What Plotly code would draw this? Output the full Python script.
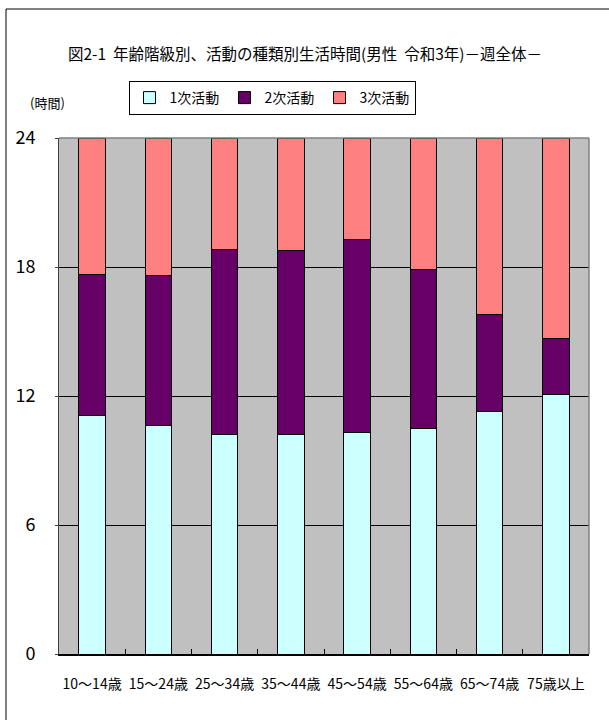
import plotly.graph_objects as go

categories = ["10～14歳", "15～24歳", "25～34歳", "35～44歳", "45～54歳", "55～64歳", "65～74歳", "75歳以上"]
primary = [11.11, 10.62, 10.22, 10.19, 10.28, 10.47, 11.26, 12.07]
secondary = [6.54, 6.97, 8.61, 8.59, 8.99, 7.41, 4.54, 2.60]
tertiary = [6.35, 6.41, 5.17, 5.22, 4.73, 6.12, 8.20, 9.33]
series_names = ["1次活動", "2次活動", "3次活動"]
series_colors = ["#CCFFFF", "#660066", "#FF8080"]
y_ticks = [0, 6, 12, 18, 24]

FONT = "Noto Sans CJK JP"

fig = go.Figure()
for name, vals, col in zip(series_names, [primary, secondary, tertiary], series_colors):
    fig.add_trace(go.Bar(
        x=categories, y=vals, name=name,
        marker=dict(color=col, line=dict(color="#000000", width=1)),
        width=0.4,
    ))

W, H = 609, 720
L, R, T, B = 59, 20, 138, 66
pw = W - L - R
ph = H - T - B

def px(x):
    return (x - L) / pw

def py(y):
    return (H - B - y) / ph

fig.update_layout(
    width=W, height=H,
    barmode="stack",
    plot_bgcolor="#C0C0C0",
    paper_bgcolor="#FFFFFF",
    margin=dict(l=L, r=R, t=T, b=B, pad=0, autoexpand=False),
    font=dict(family=FONT, color="#000000"),
    title=dict(
        text="図2-1  年齢階級別、活動の種類別生活時間(男性  令和3年)－週全体－",
        x=305 / W, xref="container", xanchor="center",
        y=1 - 55 / H, yref="container", yanchor="middle",
        font=dict(size=15.5, family=FONT, color="#000000"),
    ),
    showlegend=True,
    legend=dict(
        orientation="h",
        x=px(272), xanchor="center",
        y=py(81), yanchor="top",
        bgcolor="#FFFFFF",
        bordercolor="#000000", borderwidth=1,
        font=dict(size=14, family=FONT, color="#000000"),
        traceorder="normal",
        itemwidth=30,
        entrywidth=50, entrywidthmode="pixels",
        tracegroupgap=0,
    ),
    xaxis=dict(
        type="category",
        showline=True, linecolor="#000000", linewidth=1.5,
        ticks="inside", tickson="boundaries", ticklen=5, tickcolor="#000000",
        tickfont=dict(size=14, family=FONT, color="#000000"),
        tickangle=0,
        ticklabelstandoff=16,
        showgrid=False,
        mirror=False,
    ),
    yaxis=dict(
        range=[0, 24],
        tickvals=y_ticks,
        ticktext=[str(v) for v in y_ticks],
        showline=True, linecolor="#404040", linewidth=1,
        ticks="outside", ticklen=3, tickcolor="#404040",
        tickfont=dict(size=18, family=FONT, color="#000000"),
        ticklabelstandoff=16,
        showgrid=True, gridcolor="#000000", gridwidth=1,
        zeroline=False,
    ),
    annotations=[
        dict(text="(時間)", x=px(47), y=py(102), xref="paper", yref="paper",
             xanchor="center", yanchor="middle", showarrow=False,
             font=dict(size=13, family=FONT, color="#000000")),
    ],
    shapes=[
        dict(type="line", xref="paper", yref="paper", x0=0, x1=1, y0=1, y1=1,
             line=dict(color="#808080", width=1.5)),
        dict(type="line", xref="paper", yref="paper", x0=1, x1=1, y0=0, y1=1,
             line=dict(color="#808080", width=1.5)),
        dict(type="line", xref="paper", yref="paper", x0=px(6), x1=px(640), y0=py(9), y1=py(9),
             line=dict(color="#000000", width=1)),
        dict(type="line", xref="paper", yref="paper", x0=px(6), x1=px(6), y0=py(9), y1=py(740),
             line=dict(color="#000000", width=1)),
    ],
)

fig.write_html(
    "out.html",
    config={"displayModeBar": False},
    post_script="document.body.style.margin='0';",
)
